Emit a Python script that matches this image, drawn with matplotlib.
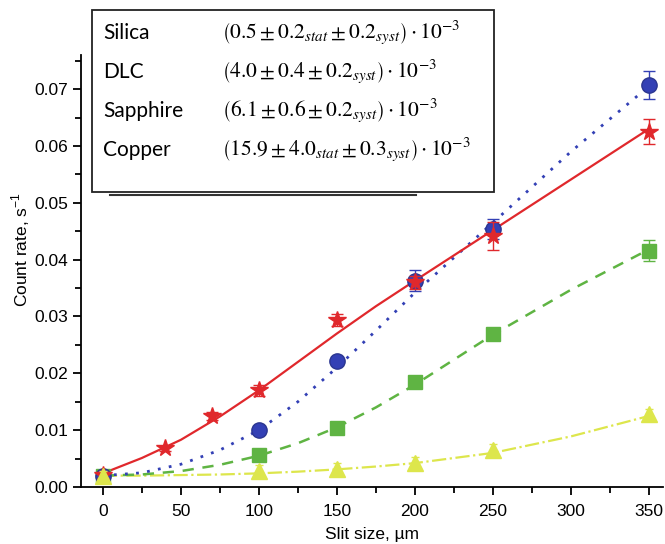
import numpy as np
import matplotlib
matplotlib.use('Agg')
import matplotlib.pyplot as plt
from matplotlib.patches import Rectangle
from matplotlib.lines import Line2D
from matplotlib.ticker import MultipleLocator, FormatStrFormatter

# Measured points (slit size in um, count rate in 1/s)
x_copper = [0, 40, 70, 100, 150, 200, 250, 350]
y_copper = [0.0021, 0.0068, 0.0125, 0.0170, 0.0294, 0.0360, 0.0442, 0.0625]
e_copper = [0.0005, 0.0005, 0.0007, 0.0010, 0.0010, 0.0012, 0.0025, 0.0022]

x_dlc = [0, 100, 150, 200, 250, 350]
y_dlc = [0.0020, 0.0100, 0.0222, 0.0363, 0.0454, 0.0707]
e_dlc = [0.0004, 0.0005, 0.0006, 0.0018, 0.0018, 0.0025]

x_sapph = [0, 100, 150, 200, 250, 350]
y_sapph = [0.0020, 0.0057, 0.0104, 0.0185, 0.0270, 0.0416]
e_sapph = [0.0004, 0.0005, 0.0005, 0.0006, 0.0007, 0.0018]

x_silica = [0, 100, 150, 200, 250, 350]
y_silica = [0.0020, 0.0028, 0.0032, 0.0042, 0.0065, 0.0128]
e_silica = [0.0008, 0.0010, 0.0010, 0.0010, 0.0010, 0.0010]

# Fit curves
x_fit = [0, 25, 50, 75, 100, 125, 150, 175, 200, 250, 300, 350]
fit_copper = [0.0024, 0.0051, 0.0083, 0.0124, 0.0170, 0.0220, 0.0270, 0.0318, 0.0363, 0.0452, 0.0541, 0.0630]
fit_dlc = [0.0020, 0.0025, 0.0040, 0.0065, 0.0100, 0.0150, 0.0210, 0.0275, 0.0342, 0.0465, 0.0590, 0.0705]
fit_sapph = [0.0020, 0.0022, 0.0028, 0.0039, 0.0055, 0.0077, 0.0105, 0.0140, 0.0180, 0.0268, 0.0347, 0.0418]
fit_silica = [0.0020, 0.0020, 0.0021, 0.0022, 0.0024, 0.0027, 0.0031, 0.0036, 0.0042, 0.0060, 0.0089, 0.0125]

# Legend table text
materials = ['Silica', 'DLC', 'Sapphire', 'Copper']
values = [r'$\left(0.5 \pm 0.2_{stat} \pm 0.2_{syst}\right) \cdot 10^{-3}$',
          r'$\left(4.0 \pm 0.4 \pm 0.2_{syst}\right) \cdot 10^{-3}$',
          r'$\left(6.1 \pm 0.6 \pm 0.2_{syst}\right) \cdot 10^{-3}$',
          r'$\left(15.9 \pm 4.0_{stat} \pm 0.3_{syst}\right) \cdot 10^{-3}$']

c_red = '#e0282c'
c_blue = '#3340b5'
c_green = '#5fb443'
c_yellow = '#dde64c'

plt.rcParams['font.family'] = 'Liberation Sans'
plt.rcParams['mathtext.fontset'] = 'stix'

W, H = 665, 544
fig = plt.figure(figsize=[W / 100, H / 100], dpi=100)
ax = fig.add_axes([81 / W, (H - 487) / H, (663 - 81) / W, (487 - 55) / H])

# fits
ax.plot(x_fit, fit_silica, color=c_yellow, linestyle='-.', linewidth=1.6, zorder=2)
ax.plot(x_fit, fit_sapph, color=c_green, linestyle=(0, (4.5, 3.5)), linewidth=1.8, zorder=2)
ax.plot(x_fit, fit_dlc, color=c_blue, linestyle=(0, (1, 3)), linewidth=2.0, zorder=2)
ax.plot(x_fit, fit_copper, color=c_red, linestyle='-', linewidth=1.6, zorder=2)

# points
ax.errorbar(x_sapph, y_sapph, yerr=e_sapph, fmt='s', color=c_green, ms=9.5,
            capsize=4, elinewidth=1, zorder=3)
ax.errorbar(x_dlc, y_dlc, yerr=e_dlc, fmt='o', color=c_blue, mec='#2a3590', ms=11,
            capsize=4, elinewidth=1, zorder=4)
ax.plot(np.array(x_dlc) - 1.2, np.array(y_dlc) + 0.0004, 'o', color='#8a95e0',
        ms=3.5, mec='none', alpha=0.8, zorder=4)
ax.errorbar(x_copper, y_copper, yerr=e_copper, fmt='*', color=c_red, ms=13,
            capsize=4, elinewidth=1, zorder=5)
ax.errorbar(x_silica, y_silica, yerr=e_silica, fmt='^', color=c_yellow, ms=11,
            capsize=3, elinewidth=1, zorder=6)

ax.set_xlim(-14, 359)
ax.set_ylim(0, 0.076)
ax.xaxis.set_major_locator(MultipleLocator(50))
ax.xaxis.set_minor_locator(MultipleLocator(25))
ax.yaxis.set_major_locator(MultipleLocator(0.01))
ax.yaxis.set_minor_locator(MultipleLocator(0.005))
ax.yaxis.set_major_formatter(FormatStrFormatter('%.2f'))
ax.spines['top'].set_visible(False)
ax.spines['right'].set_visible(False)
for s in ['left', 'bottom']:
    ax.spines[s].set_linewidth(1.3)
ax.tick_params(which='major', direction='out', length=6, width=1.3, labelsize=12.5)
ax.tick_params(axis='x', which='major', pad=6)
ax.tick_params(which='minor', direction='out', length=4, width=1.3)
ax.set_xlabel('Slit size, \u00b5m', fontsize=12.5, labelpad=6)
ax.set_ylabel('Count rate, s$^{\\mathregular{-1}}$', fontsize=12.5)
ax.yaxis.set_label_coords(-0.084, 0.55)

# legend table box
box = Rectangle((92 / W, 1 - 192 / H), (494 - 92) / W, (192 - 10) / H,
                transform=fig.transFigure, facecolor='white', edgecolor='#222222',
                linewidth=1.3, zorder=10)
fig.patches.append(box)
fig.lines.append(Line2D([110 / W, 416 / W], [1 - 195 / H, 1 - 195 / H],
                        transform=fig.transFigure, color='#333333', linewidth=1.5))
for i in range(len(materials)):
    yy = 1 - (33 + 39 * i) / H
    fig.text(103 / W, yy, materials[i], fontsize=15, family='Lato', va='center', zorder=11)
    fig.text(222 / W, yy, values[i], fontsize=15.5, va='center', zorder=11)

fig.savefig('out.png', dpi=100)
